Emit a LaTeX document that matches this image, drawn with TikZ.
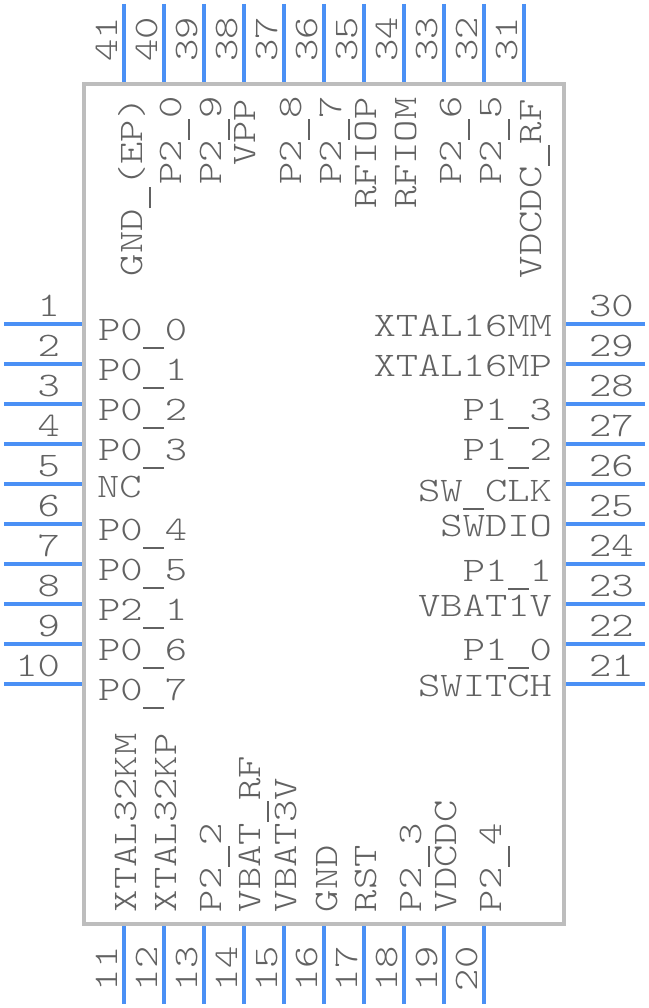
\documentclass[tikz,border=0pt]{standalone}
\usepackage{fontspec}
\setmonofont[FakeStretch=1.235]{Latin Modern Mono Light}
\definecolor{pinblue}{HTML}{4A90F5}
\definecolor{boxgray}{HTML}{BDBDBD}
\definecolor{labelgray}{HTML}{626262}
\newcommand{\lowbar}{\makebox[22.3pt]{\rule[-9pt]{21pt}{2pt}}}
\tikzset{
  pinline/.style={line width=4pt,pinblue},
  txt/.style={inner sep=0pt,outer sep=0pt,text=labelgray,font=\fontsize{34.4}{36}\ttfamily},
  west/.style={txt,anchor=base west},
  east/.style={txt,anchor=base east},
  vert/.style={txt,anchor=base west,rotate=90}
}
\begin{document}
\begin{tikzpicture}[x=1pt,y=-1pt]
\useasboundingbox (0,0) rectangle (648,1008);
\draw[line width=4pt,boxgray] (84,84) rectangle (564,924);

% left and right pins
\foreach \n in {1,...,10}{
  \pgfmathsetmacro{\ypin}{284+40*\n}
  \pgfmathtruncatemacro{\m}{31-\n}
  \draw[pinline] (4,\ypin)--(82,\ypin);
  \draw[pinline] (566,\ypin)--(645,\ypin);
  \node[east] (num\n) at (60,\ypin-8) {\n};
  \node[west] (num\m) at (589,\ypin-8) {\m};
}
% bottom pins
\foreach \n in {11,...,20}{
  \pgfmathsetmacro{\xpin}{124+40*(\n-11)}
  \draw[pinline] (\xpin,926)--(\xpin,1004);
  \node[vert] (num\n) at (\xpin-7,991) {\n};
}
% top pins
\foreach \n in {31,...,41}{
  \pgfmathsetmacro{\xpin}{524-40*(\n-31)}
  \draw[pinline] (\xpin,4)--(\xpin,82);
  \node[vert] (num\n) at (\xpin-7,62) {\n};
}

% left names
\foreach \y/\s in {340/P0\lowbar 0,380/P0\lowbar 1,420/P0\lowbar 2,460/P0\lowbar 3,540/P0\lowbar 4,580/P0\lowbar 5,620/P2\lowbar 1,660/P0\lowbar 6,700/P0\lowbar 7}{
  \node[west] at (98,\y) {\s};
}
\node[west] (nc) at (97,497) {NC};

% right names
\foreach \y/\s in {336/XTAL16MM,376/XTAL16MP,420/P1\lowbar 3,460/P1\lowbar 2,501/SW\lowbar CLK,536/SWDIO,581/P1\lowbar 1,616/VBAT1V,660/P1\lowbar 0,696/SWITCH}{
  \node[east] at (552,\y) {\s};
}

% top names
\foreach \x/\y/\s in {142/276/GND\lowbar (EP),181/185/P2\lowbar 0,221/185/P2\lowbar 9,255/166/VPP,301/185/P2\lowbar 8,341/185/P2\lowbar 7,376/209/RFIOP,416/209/RFIOM,461/185/P2\lowbar 6,501/185/P2\lowbar 5,541/278/VDCDC\lowbar RF}{
  \node[vert] at (\x,\y) {\s};
}

% bottom names
\foreach \x/\s in {136/XTAL32KM,176/XTAL32KP,221/P2\lowbar 2,260/VBAT\lowbar RF,296/VBAT3V,337/GND,376/RST,421/P2\lowbar 3,456/VDCDC,501/P2\lowbar 4}{
  \node[vert] at (\x,912) {\s};
}
\end{tikzpicture}
\end{document}
